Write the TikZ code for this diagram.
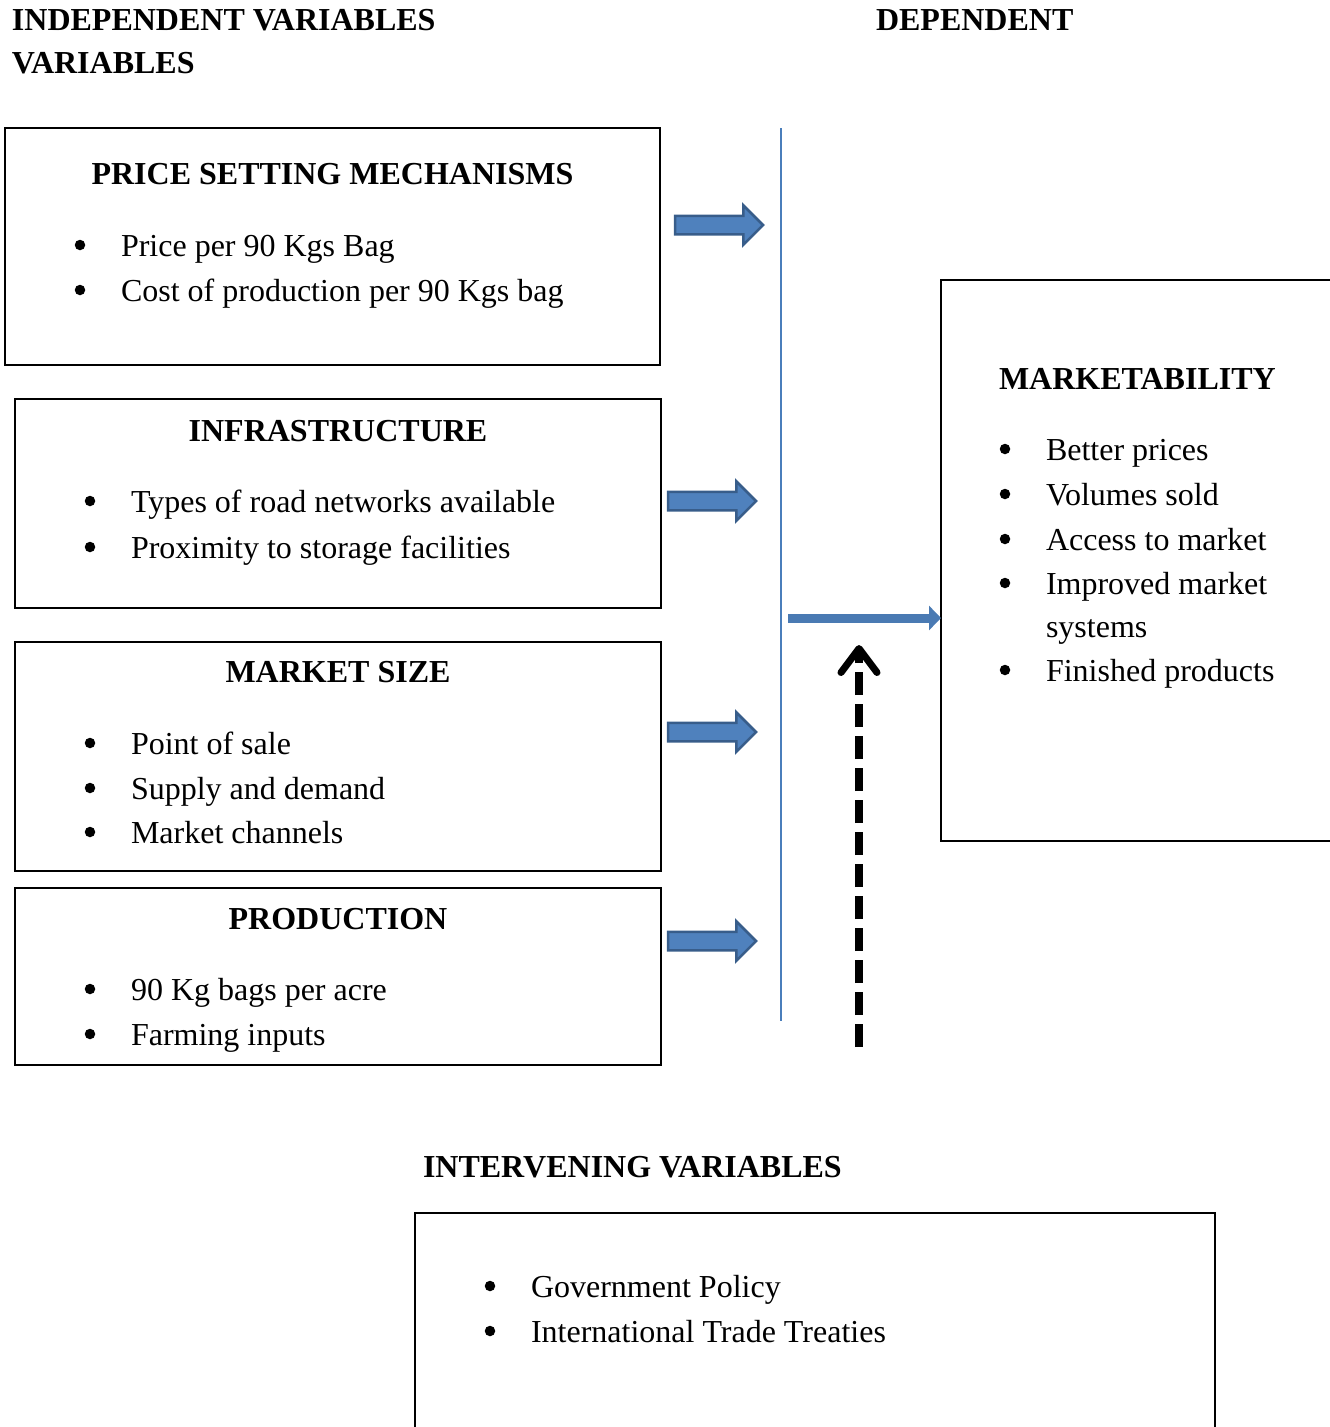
\documentclass[tikz,border=0pt]{standalone}
\usepackage{fontspec}
\setmainfont{Liberation Serif}
\usetikzlibrary{shapes.arrows,arrows.meta}
\definecolor{arrfill}{HTML}{4F81BD}
\definecolor{arredge}{HTML}{385D8A}
\definecolor{vblue}{HTML}{4A7EBB}
\newcommand{\itemrow}[5]{%
  \node[bdot] (#1d) at (#2,#4-11) {};
  \node[itm] (#1) at (#3,#4) {#5};}
\begin{document}
\begin{tikzpicture}[x=1pt,y=-1pt,
  every node/.style={font=\fontsize{32}{45}\selectfont, inner sep=0pt, outer sep=0pt},
  box/.style={draw, line width=2pt, anchor=north west},
  ttl/.style={font=\fontsize{32}{45}\selectfont\bfseries, anchor=base},
  lbl/.style={font=\fontsize{32}{45}\selectfont\bfseries, anchor=base west},
  itm/.style={anchor=base west},
  bdot/.style={circle, fill=black, minimum size=10.5pt},
  blk/.style={single arrow, fill=arrfill, draw=arredge, line width=2.5pt,
    inner xsep=0pt, inner ysep=8pt, minimum height=88pt,
    single arrow head extend=10.5pt, single arrow tip angle=90, anchor=west},
]
\useasboundingbox (0,0) rectangle (1330,1427);
\clip (0,0) rectangle (1330,1427);

% headings
\node[lbl] (indep) at (12,30) {INDEPENDENT VARIABLES};
\node[lbl] (indep2) at (12,73) {VARIABLES};
\node[lbl] (dep) at (876,30) {DEPENDENT};

% independent boxes
\node[box, minimum width=655pt, minimum height=237pt] (b1) at (5,128) {};
\node[ttl] (t1) at (332.5,184) {PRICE SETTING MECHANISMS};
\itemrow{i11}{80}{121}{256}{Price per 90 Kgs Bag}
\itemrow{i12}{80}{121}{301}{Cost of production per 90 Kgs bag}

\node[box, minimum width=646pt, minimum height=209pt] (b2) at (15,399) {};
\node[ttl] (t2) at (338,441) {INFRASTRUCTURE};
\itemrow{i21}{90}{131}{512}{Types of road networks available}
\itemrow{i22}{90}{131}{558}{Proximity to storage facilities}

\node[box, minimum width=646pt, minimum height=229pt] (b3) at (15,642) {};
\node[ttl] (t3) at (338,682) {MARKET SIZE};
\itemrow{i31}{90}{131}{754}{Point of sale}
\itemrow{i32}{90}{131}{799}{Supply and demand}
\itemrow{i33}{90}{131}{843}{Market channels}

\node[box, minimum width=646pt, minimum height=177pt] (b4) at (15,888) {};
\node[ttl] (t4) at (338,929) {PRODUCTION};
\itemrow{i41}{90}{131}{1000}{90 Kg bags per acre}
\itemrow{i42}{90}{131}{1045}{Farming inputs}

% block arrows
\node[blk] (a1) at (675,225) {};
\node[blk] (a2) at (668,501) {};
\node[blk] (a3) at (668,732) {};
\node[blk] (a4) at (668,941) {};

% vertical separator
\coordinate (vt) at (781,128);
\coordinate (vb) at (781,1021);
\draw[vblue, line width=2pt] (vt) -- (vb);

% dependent box
\node[box, minimum width=500pt, minimum height=561pt] (mk) at (941,280) {};
\node[lbl] (tm) at (999,389) {MARKETABILITY};
\itemrow{m1}{1005}{1046}{460}{Better prices}
\itemrow{m2}{1005}{1046}{505}{Volumes sold}
\itemrow{m3}{1005}{1046}{550}{Access to market}
\itemrow{m4}{1005}{1046}{594}{Improved market}
\node[itm] (m4b) at (1046,637) {systems};
\itemrow{m5}{1005}{1046}{681}{Finished products}

% arrow into marketability
\coordinate (ms) at (788,618);
\draw[arrfill!80!arredge, line width=9pt, -{Triangle[length=12pt,width=24pt]}] (ms) -- (ms -| mk.west);

% dashed intervening arrow
\coordinate (ds) at (859,1047);
\coordinate (de) at (859,645);
\draw[black, line width=8pt, dash pattern=on 23pt off 9pt,
  -{Straight Barb[length=24pt,width=36pt,line width=7pt,round]}] (ds) -- (de);

% intervening
\node[lbl] (tiv) at (423,1177) {INTERVENING VARIABLES};
\node[box, minimum width=800pt, minimum height=300pt] (iv) at (415,1213) {};
\itemrow{v1}{490}{531}{1297}{Government Policy}
\itemrow{v2}{490}{531}{1342}{International Trade Treaties}
\end{tikzpicture}
\end{document}
